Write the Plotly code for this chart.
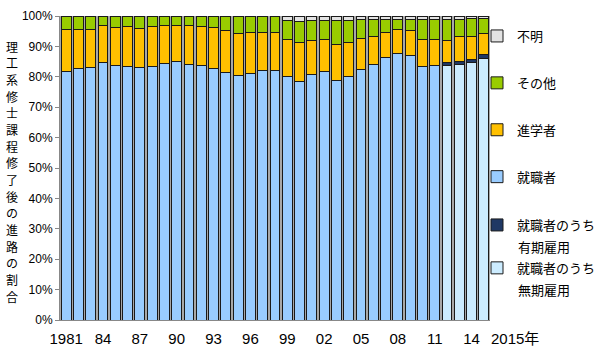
import plotly.graph_objects as go

years = list(range(1981, 2016))

# 就職者 (total, until 2011)
employed = [81.9, 82.6, 83.2, 84.8, 83.6, 83.4, 83.2, 83.3, 84.4, 85.0,
            83.9, 83.6, 82.6, 81.5, 80.5, 81.1, 82.2, 82.2, 80.0, 78.3,
            80.9, 81.6, 78.8, 80.0, 82.4, 83.9, 86.2, 87.7, 87.1, 83.3,
            83.7, None, None, None, None]
# 就職者のうち有期雇用 / 無期雇用 (2012-)
fixed_term = [None] * 31 + [1.0, 0.9, 1.0, 1.1]
permanent = [None] * 31 + [83.6, 84.2, 84.6, 86.1]
# 進学者
further_study = [13.5, 13.0, 12.5, 12.2, 12.6, 13.3, 12.8, 13.2, 12.4, 12.0,
                 12.9, 12.9, 13.7, 13.7, 13.9, 13.4, 12.5, 12.4, 12.4, 13.0,
                 11.2, 10.6, 11.8, 11.3, 10.1, 9.4, 8.5, 8.0, 8.1, 9.1,
                 8.6, 7.5, 8.0, 7.8, 7.2]
# その他
other = [4.6, 4.4, 4.3, 3.0, 3.8, 3.3, 4.0, 3.5, 3.2, 3.0,
         3.2, 3.5, 3.7, 4.8, 5.6, 5.5, 5.3, 5.4, 6.1, 6.8,
         6.4, 6.3, 7.9, 7.2, 6.2, 5.4, 4.0, 3.3, 3.5, 6.3,
         6.6, 6.8, 5.8, 5.9, 4.8]
# 不明
unknown = [0] * 18 + [1.5, 1.9, 1.5, 1.5, 1.5, 1.5, 1.3, 1.3, 1.3, 1.0,
                      1.3, 1.3, 1.1, 1.1, 1.1, 0.7, 0.7]

tick_years = list(range(1981, 2015, 3))
tick_text = ["1981"] + [str(y)[2:] for y in tick_years[1:]]
y_ticks = list(range(0, 101, 10))
y_tick_text = [f"{v}%" for v in y_ticks]

# (legend line 1, legend line 2, values, colour, legend id)
series = [
    ("就職者のうち", "無期雇用", permanent, "#CCECFF", "legend2"),
    ("就職者のうち", "有期雇用", fixed_term, "#1F3864", "legend2"),
    ("就職者", None, employed, "#99CCFF", "legend"),
    ("進学者", None, further_study, "#FFC000", "legend"),
    ("その他", None, other, "#99CC00", "legend"),
    ("不明", None, unknown, "#E3E3E3", "legend"),
]

fig = go.Figure()
n = len(series)
for i, (name, _sub, vals, col, lg) in enumerate(series):
    fig.add_trace(go.Bar(
        x=years, y=vals, name=name, legendgroup=f"g{i}", legendrank=n - i,
        legend=lg,
        marker=dict(color=col, line=dict(color="#1a1a1a", width=1)),
    ))

font_family = "Liberation Sans, Arial, Noto Sans CJK JP, sans-serif"
cjk = "Noto Sans CJK JP, sans-serif"
W, H = 600, 355
ML, MR, MT, MB = 60, 10, 16, 35
plot_w = W - ML - MR
plot_h = H - MT - MB
dom_right = 430 / plot_w


def px_x(x):
    return (x - ML) / plot_w


def px_y(y):
    return (H - MB - y) / plot_h


LEG_X = 477
legend_common = dict(
    x=px_x(LEG_X), xanchor="left", yanchor="top",
    traceorder="grouped",
    font=dict(size=13, family=cjk),
    bgcolor="rgba(0,0,0,0)", maxheight=350,
)

fig.update_layout(
    barmode="stack",
    bargap=0.2,
    width=W, height=H,
    margin=dict(l=ML, r=MR, t=MT, b=MB, autoexpand=False),
    paper_bgcolor="white",
    plot_bgcolor="#A8A8A8",
    font=dict(family=font_family, color="black"),
    showlegend=True,
    legend=dict(legend_common, y=px_y(21), tracegroupgap=27),
    legend2=dict(legend_common, y=px_y(210), tracegroupgap=23),
    xaxis=dict(
        domain=[0, dom_right],
        range=[1980.5, 2015.5],
        tickvals=tick_years, ticktext=tick_text,
        tickfont=dict(size=15),
        showgrid=False, zeroline=False, automargin=False,
        showline=True, linecolor="#888888", linewidth=1,
        ticks="", ticklabelstandoff=5,
    ),
    yaxis=dict(
        range=[0, 100],
        tickvals=y_ticks, ticktext=y_tick_text,
        tickfont=dict(size=12), automargin=False,
        showgrid=False, zeroline=False,
        showline=True, linecolor="#888888", linewidth=1,
        ticks="outside", ticklen=4, tickcolor="#888888",
    ),
)

# second lines of the two-line legend entries
sub_y = {"有期雇用": 246, "無期雇用": 289}
for name, sub, *_ in series:
    if sub:
        fig.add_annotation(
            text=sub, xref="paper", yref="paper",
            x=px_x(LEG_X + 39), y=px_y(sub_y[sub]), xanchor="left", yanchor="middle",
            showarrow=False, font=dict(size=13, family=cjk),
        )

title_chars = "理工系修士課程修了後の進路の割合"
step = (296 - 46) / (len(title_chars) - 1)
for k, ch in enumerate(title_chars):
    fig.add_annotation(
        text=ch, xref="paper", yref="paper",
        x=px_x(12), y=px_y(46 + k * step), xanchor="center", yanchor="middle",
        showarrow=False, font=dict(size=12, family=cjk),
    )
fig.add_annotation(
    text="2015年", xref="paper", yref="paper",
    x=px_x(515), y=px_y(338), xanchor="center", yanchor="middle",
    showarrow=False, font=dict(size=15, family="Liberation Sans, Noto Sans CJK JP, sans-serif"),
)

fig.write_html(
    "out.html",
    config={"displayModeBar": False},
    post_script="document.body.style.margin='0px';",
)
